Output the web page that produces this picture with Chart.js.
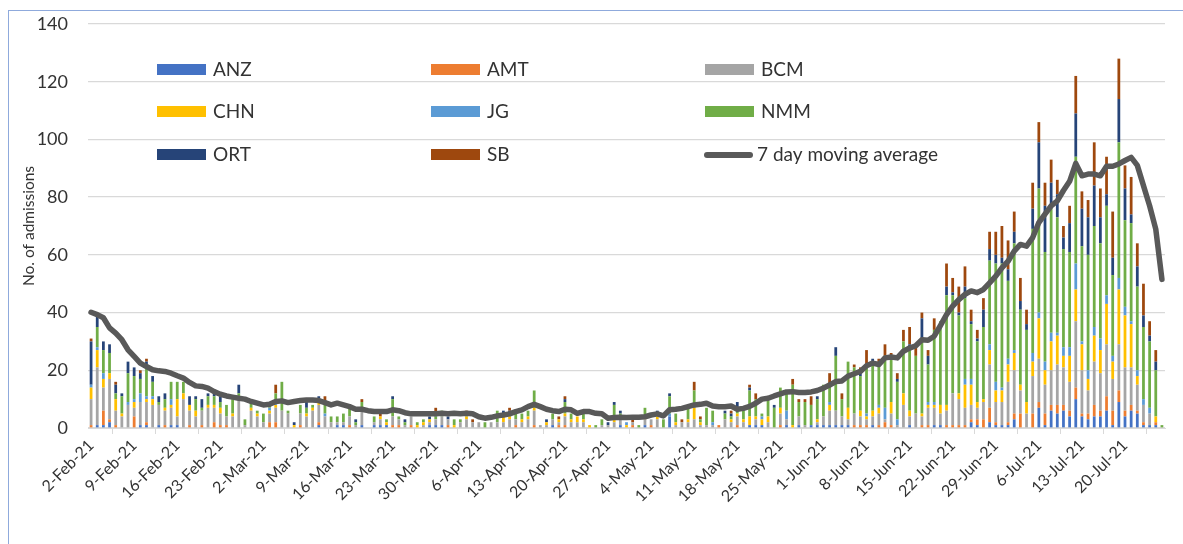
<!DOCTYPE html>
<html>
<head>
<meta charset="utf-8">
<script src="https://cdn.jsdelivr.net/npm/chart.js@4.4.1/dist/chart.umd.min.js"></script>
<style>
  body { margin: 0; background: #fff; overflow: hidden; }
  #wrap { position: relative; width: 1183px; height: 544px; }
  #frame { position: absolute; left: 8px; top: 10px; width: 1300px; height: 700px; border: 1px solid #8FAADC; }
  canvas { position: absolute; left: 0; top: 0; }
</style>
</head>
<body>
<div id="wrap">
  <div id="frame"></div>
  <canvas id="admChart" width="1183" height="544"></canvas>
</div>
<script>
// daily admissions by specialty, 2-Feb-21 .. 26-Jul-21
const startDate = new Date(2021, 1, 2);
const dayCount = 175;
const months = ["Jan","Feb","Mar","Apr","May","Jun","Jul","Aug","Sep","Oct","Nov","Dec"];
const dayLabels = [];
for (let i = 0; i < dayCount; i++) {
  const d = new Date(startDate.getFullYear(), startDate.getMonth(), startDate.getDate() + i);
  dayLabels.push(d.getDate() + "-" + months[d.getMonth()] + "-21");
}

const ANZ = [
  0,1,1,2,0,0,0,0,1,1, 0,1,0,1,1,0,0,0,0,0, 0,0,0,0,0,0,0,0,0,0, 0,0,0,0,0,0,0,1,0,0,
  1,1,0,0,1,0,1,1,1,0, 0,0,0,0,0,1,1,1,0,0, 0,0,0,0,0,0,0,0,0,0, 0,0,0,0,0,1,0,0,0,0,
  0,0,0,0,0,0,1,0,0,0, 1,0,0,0,4,0,0,0,0,0, 0,0,0,0,0,0,0,1,1,1, 0,0,0,1,0,1,0,1,1,1,
  1,1,1,1,0,0,0,1,0,0, 0,0,0,1,0,0,0,1,1,0, 0,0,0,2,1,0,2,1,1,1, 3,0,0,0,7,1,6,5,6,4,
  10,4,3,4,4,6,1,9,4,6, 5,1,1,1,0
];
const AMT = [
  1,0,5,1,1,0,0,4,0,1, 0,0,1,0,0,0,1,0,1,0, 2,1,1,0,0,0,0,0,0,2, 2,0,0,0,1,0,0,1,0,0,
  0,0,1,0,0,0,0,0,0,1, 1,0,1,0,0,0,0,0,1,0, 0,0,0,0,0,0,0,0,0,1, 0,0,1,0,0,0,1,1,0,0,
  0,0,0,0,0,0,0,0,1,0, 0,1,0,0,0,0,0,0,0,0, 0,0,1,0,0,1,0,0,0,0, 0,0,1,0,0,0,0,0,0,0,
  0,0,0,0,1,1,1,0,1,2, 1,0,0,0,0,1,1,0,0,1, 1,1,1,1,2,3,5,1,0,1, 2,5,0,5,2,4,2,3,2,2,
  4,1,2,4,2,5,5,4,2,2, 1,1,0,1,0
];
const BCM = [
  9,20,8,14,5,4,8,3,8,7, 8,7,5,6,3,10,5,4,5,7, 5,4,3,4,10,1,6,4,2,3, 5,6,5,0,4,4,6,6,4,2,
  1,1,3,1,5,0,1,2,0,3, 2,1,3,0,1,1,2,3,2,0, 2,3,2,2,0,2,2,2,3,2, 2,3,5,1,1,2,1,3,2,2,
  2,0,0,1,1,2,3,0,1,0, 2,2,3,0,0,1,2,2,3,1, 1,1,0,3,2,3,2,0,2,0, 2,0,4,2,0,3,1,0,1,3,
  5,5,3,2,4,3,2,3,4,1, 4,1,8,3,5,3,6,6,4,5, 11,9,6,5,4,6,15,7,8,14, 15,8,5,13,15,10,12,14,13,10,
  23,15,8,15,13,18,11,16,15,13, 9,6,4,0,0
];
const CHN = [
  4,6,3,2,4,1,0,2,0,1, 2,0,1,1,6,2,2,2,0,1, 1,2,0,1,1,0,1,1,0,1, 1,0,0,1,0,1,1,1,0,0,
  0,0,0,0,1,0,0,1,1,0, 0,0,0,1,1,1,0,0,0,1, 0,1,0,0,0,0,0,2,1,0, 1,1,1,0,1,0,1,1,1,2,
  1,1,0,0,0,1,0,1,0,0, 1,0,1,0,0,1,0,1,4,1, 0,0,0,0,1,1,1,3,1,2, 2,0,2,0,1,0,0,0,1,0,
  2,0,0,4,0,2,1,2,2,0, 4,0,4,2,0,1,1,1,3,2, 0,2,8,7,2,1,5,4,4,6, 6,2,4,5,14,5,10,10,4,9,
  11,9,4,9,8,14,6,19,18,15, 3,0,0,2,0
];
const JG = [
  1,1,2,0,0,0,1,1,3,1, 1,0,0,2,0,0,0,0,0,0, 0,0,0,0,0,0,0,0,0,1, 2,0,0,0,0,0,0,0,1,0,
  0,0,0,0,0,0,0,0,0,0, 0,0,0,0,0,0,0,0,0,0, 0,0,0,0,0,0,0,0,0,0, 0,0,0,0,0,0,0,0,0,0,
  0,0,0,0,0,1,0,1,0,0, 0,0,0,0,1,0,0,0,1,0, 0,1,0,0,0,0,0,0,0,1, 0,0,0,3,0,0,0,0,0,0,
  1,0,0,0,0,0,1,0,1,4, 0,2,0,0,0,0,1,1,0,0, 0,0,2,2,0,0,2,3,1,2, 1,0,0,3,2,3,3,1,3,3,
  9,1,3,3,4,3,2,4,3,1, 2,2,2,0,0
];
const NMM = [
  0,7,8,7,2,6,10,8,5,11, 5,1,3,6,6,4,0,4,1,3, 3,2,4,5,1,2,2,1,3,1, 2,10,1,0,3,2,1,1,4,2,
  2,3,3,1,2,0,2,0,1,6, 1,1,0,1,1,0,1,2,0,2, 1,1,0,0,2,0,4,1,1,2, 2,2,6,0,0,2,0,4,2,0,
  2,0,1,2,0,4,1,0,0,1, 3,0,1,3,6,3,0,5,5,1, 6,4,0,2,1,2,3,9,6,1, 6,7,7,6,14,5,8,7,7,11,
  6,19,6,16,16,12,17,17,14,18, 16,13,18,22,20,26,13,25,29,38, 34,27,28,19,21,25,29,41,43,27, 37,26,25,43,43,38,43,40,34,33,
  37,33,40,35,33,31,28,47,30,34, 29,25,23,16,1
];
const ORT = [
  15,4,3,3,3,1,4,3,2,1, 2,2,2,0,0,0,3,1,3,1, 1,2,0,0,3,0,0,0,0,0, 0,0,0,1,0,2,0,1,0,0,
  0,0,0,1,0,0,0,0,0,1, 0,1,0,0,0,1,1,0,1,0, 0,0,0,0,0,0,0,1,1,0, 0,0,0,0,1,0,0,1,0,0,
  0,0,0,0,1,1,1,0,0,0, 0,0,1,0,1,0,0,0,0,0, 0,0,0,1,1,2,0,1,0,0, 0,1,0,0,0,0,0,0,1,0,
  0,3,0,0,0,2,0,1,0,0, 0,1,0,1,0,7,3,0,0,3, 1,1,4,1,1,6,4,3,2,4, 4,3,2,7,16,16,9,8,4,10,
  15,13,13,14,9,4,6,15,11,3, 7,4,2,3,0
];
const SB = [
  1,1,0,0,1,0,0,0,1,1, 0,0,0,0,0,0,0,0,0,0, 0,0,0,0,0,0,0,0,0,0, 3,0,0,0,0,0,0,0,2,0,
  0,0,0,0,1,0,0,1,0,0, 0,0,0,0,0,0,2,0,0,0, 0,1,1,0,0,0,0,0,1,0, 0,0,0,0,0,0,1,1,0,0,
  0,0,0,0,0,0,0,0,1,0, 0,0,0,0,0,0,1,0,3,1, 0,0,0,0,1,0,0,1,2,0, 0,0,0,1,2,1,1,3,0,0,
  4,0,2,0,1,1,5,0,2,4, 1,2,4,6,3,2,2,4,0,8, 5,9,7,4,3,4,6,8,11,10, 7,8,5,9,7,8,8,5,4,6,
  13,6,6,15,10,13,16,14,8,13, 8,11,5,4,0
];
const movingAvg = [
  40.1,39.3,38.2,34.7,32.9,30.6,27.1,24.8,22.5,21.3, 20.2,19.8,19.6,19.0,18.1,17.3,15.8,14.6,14.4,13.8,
  12.6,11.7,11.1,10.7,10.3,10.0,9.2,8.6,8.0,8.2, 9.2,9.4,8.8,9.2,9.5,9.7,9.7,9.5,8.8,8.0,
  8.6,8.0,7.4,6.5,6.5,6.0,5.7,5.7,5.7,6.3, 6.0,5.3,4.9,4.9,4.9,4.9,4.9,5.1,4.9,5.1,
  4.9,5.1,4.9,3.9,3.4,3.7,4.2,4.5,4.9,5.7, 6.3,7.4,8.2,7.4,6.5,6.0,5.7,6.5,6.3,5.1,
  5.7,5.7,5.1,4.9,3.4,3.6,3.7,3.6,3.7,3.7, 3.9,4.5,4.9,4.2,6.3,6.5,6.8,7.4,8.0,8.2,
  8.6,7.6,7.4,7.4,7.6,6.5,6.8,7.5,8.6,10.0, 10.3,11.1,11.8,12.5,12.6,12.3,12.3,12.5,13.0,13.8,
  14.9,16.1,16.3,18.0,18.8,19.6,21.6,22.5,22.0,24.3, 24.6,24.3,26.6,27.7,28.5,30.6,30.4,31.8,35.5,39.3,
  42.2,44.5,46.3,47.5,46.9,48.0,50.3,52.6,55.5,57.8, 61.3,63.6,63.0,66.0,71.2,74.1,77.0,78.7,82.3,85.5,
  91.7,87.4,88.0,88.0,87.4,90.7,90.7,91.5,92.7,93.8, 91.0,84.0,77.0,68.9,51.5
];

const seriesNames = ["ANZ", "AMT", "BCM", "CHN", "JG", "NMM", "ORT", "SB"];
const seriesData = [ANZ, AMT, BCM, CHN, JG, NMM, ORT, SB];
const seriesColors = ["#4472C4", "#ED7D31", "#A5A5A5", "#FFC000", "#5B9BD5", "#70AD47", "#264478", "#9E480E"];
const lineName = "7 day moving average";
const lineColor = "#595959";
const yTicks = [0, 20, 40, 60, 80, 100, 120, 140];

const FONT = "Lato, 'Open Sans', sans-serif";
const TEXT = "#333333";

const datasets = seriesNames.map((name, k) => ({
  type: "bar",
  label: name,
  data: seriesData[k],
  backgroundColor: seriesColors[k],
  stack: "spec",
  order: 2,
  barPercentage: 0.45,
  categoryPercentage: 1.0,
}));
datasets.push({
  type: "line",
  label: lineName,
  data: movingAvg,
  borderColor: lineColor,
  borderWidth: 5.5,
  pointRadius: 0,
  tension: 0,
  stack: "avg",
  order: 0,
  borderJoinStyle: "round",
  borderCapStyle: "round",
});

// legend laid out in a 3x3 grid inside the plot, like the original
const gridLegend = {
  id: "gridLegend",
  afterDraw(chart) {
    const ctx = chart.ctx;
    const colX = [157, 431, 705];
    const rowY = [70, 112, 155];
    ctx.save();
    ctx.font = "19px " + FONT;
    ctx.textBaseline = "middle";
    const items = seriesNames.map((n, k) => ({ name: n, color: seriesColors[k], line: false }));
    items.push({ name: lineName, color: lineColor, line: true });
    items.forEach((it, k) => {
      const x = colX[k % 3], y = rowY[Math.floor(k / 3)];
      if (it.line) {
        ctx.strokeStyle = it.color;
        ctx.lineWidth = 6;
        ctx.lineCap = "round";
        ctx.beginPath();
        ctx.moveTo(x + 2, y);
        ctx.lineTo(x + 45, y);
        ctx.stroke();
        ctx.fillStyle = TEXT;
        ctx.fillText(it.name, x + 52, y);
      } else {
        ctx.fillStyle = it.color;
        ctx.fillRect(x, y - 6, 49, 11);
        ctx.fillStyle = TEXT;
        ctx.fillText(it.name, x + 56, y);
      }
    });
    ctx.restore();
  },
};

new Chart(document.getElementById("admChart").getContext("2d"), {
  data: { labels: dayLabels, datasets: datasets },
  options: {
    responsive: false,
    animation: false,
    layout: { padding: { left: 8, top: 24, right: 18, bottom: 0 } },
    plugins: { legend: { display: false }, tooltip: { enabled: false } },
    scales: {
      x: {
        stacked: true,
        grid: { display: true, drawOnChartArea: false, drawTicks: true, tickLength: 6, color: "#D9D9D9", offset: true },
        border: { display: true, color: "#D9D9D9" },
        ticks: {
          autoSkip: false,
          maxRotation: 45,
          minRotation: 45,
          padding: 2,
          color: TEXT,
          font: { family: FONT, size: 16 },
          callback: function (value, index) {
            return index % 7 === 0 ? dayLabels[index] : null;
          },
        },
        afterFit: function (scale) { scale.height = 116; },
      },
      y: {
        stacked: true,
        min: 0,
        max: 140,
        afterBuildTicks: function (scale) { scale.ticks = yTicks.map(v => ({ value: v })); },
        grid: { color: "#D9D9D9", lineWidth: 1.3, drawTicks: false },
        border: { display: false },
        ticks: { padding: 20, color: TEXT, font: { family: FONT, size: 18 } },
        title: { display: true, text: "No. of admissions", color: TEXT, font: { family: FONT, size: 15.5 }, padding: { top: 12, bottom: 0 } },
        afterFit: function (scale) {
          scale.width = 80;
          scale.paddingTop = 4;
          scale.paddingBottom = 4;
        },
      },
    },
  },
  plugins: [gridLegend],
});
</script>
</body>
</html>
